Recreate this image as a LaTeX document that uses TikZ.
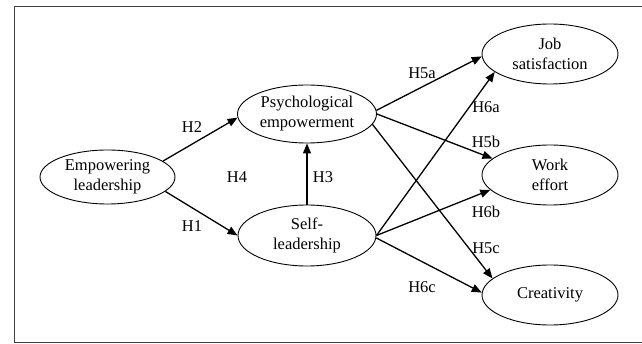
\documentclass[tikz,border=0pt]{standalone}
\usepackage{fontspec}
\setmainfont{Liberation Serif}
\usetikzlibrary{shapes.geometric,arrows.meta}
\begin{document}
\begin{tikzpicture}[x=1pt,y=-1pt,
  every node/.style={font=\fontsize{16.5}{20}\selectfont},
  ell/.style={ellipse,draw,line width=0.9pt,inner sep=0pt,align=center,
    minimum width=137pt,minimum height=58pt},
  lab/.style={inner sep=0pt},
  arr/.style={line width=1.3pt,-{Triangle[length=10pt,width=8pt]}},
  frameline/.style={draw=black!75,line width=1pt}]
\useasboundingbox (0,0) rectangle (642,344);
\draw[frameline] (642,7) -- (14,7) -- (14,342) -- (642,342);

\node[ell,minimum width=135pt,minimum height=54pt] (el) at (107.5,177) {Empowering\\leadership};
\node[ell,minimum width=139pt,minimum height=58pt] (pe) at (307,114) {Psychological\\empowerment};
\node[ell,minimum width=138pt,minimum height=61pt] (sl) at (307,235.5) {Self-\\leadership};
\node[ell,minimum width=136pt,minimum height=60pt] (js) at (550,54) {Job\\satisfaction};
\node[ell,minimum width=136pt,minimum height=60pt] (we) at (550,175) {Work\\effort};
\node[ell,minimum width=136pt,minimum height=60pt] (cr) at (550,295) {Creativity};

\draw[arr] (el.16) -- (pe.183);
\draw[arr] (el.-14) -- (sl.180);
\draw[arr] (sl.north) -- (pe.south);
\draw[arr] (pe.3) -- (js.182);
\draw[arr] (pe.0) -- (we.164);
\draw[arr] (pe.-9) -- (cr.164);
\draw[arr] (sl.0) -- (js.198);
\draw[arr] (sl.0) -- (we.194);
\draw[arr] (sl.-2) -- (cr.178);

\node[lab] (h2) at (192,127) {H2};
\node[lab] (h1) at (192,226) {H1};
\node[lab] (h4) at (237,177) {H4};
\node[lab] (h3) at (323,177) {H3};
\node[lab] (h5a) at (422,73) {H5a};
\node[lab] (h6a) at (486,107) {H6a};
\node[lab] (h5b) at (486,142) {H5b};
\node[lab] (h6b) at (486,212) {H6b};
\node[lab] (h5c) at (486,248) {H5c};
\node[lab] (h6c) at (422,287) {H6c};
\end{tikzpicture}
\end{document}
